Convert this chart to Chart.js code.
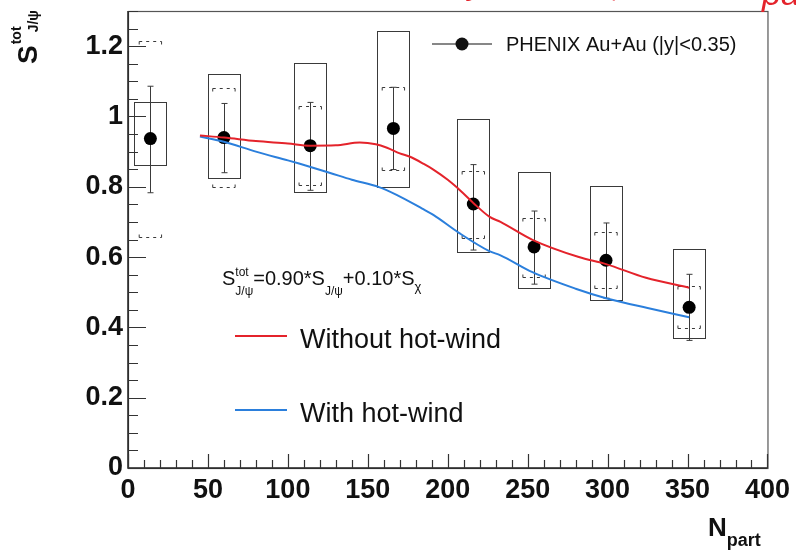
<!DOCTYPE html>
<html lang="en">
<head>
    <meta charset="UTF-8">
    <title>J/psi survival vs Npart</title>
    <style>
        body { margin: 0; background: #fff; }
    </style>
</head>
<body>
<div>
    <canvas id="myChart" width="796" height="551"></canvas>
</div>

<script src="https://cdn.jsdelivr.net/npm/chart.js"></script>

<script>
    // PHENIX Au+Au data points
    const npart  = [14, 60, 114, 166, 216, 254, 299, 351];
    const sTot   = [0.937, 0.940, 0.917, 0.966, 0.751, 0.629, 0.591, 0.457];
    const statHi = [1.086, 1.037, 1.040, 1.083, 0.863, 0.731, 0.697, 0.551];
    const statLo = [0.783, 0.840, 0.790, 0.849, 0.620, 0.523, 0.483, 0.363];
    const sysHi  = [1.040, 1.120, 1.151, 1.243, 0.994, 0.843, 0.803, 0.623];
    const sysLo  = [0.860, 0.823, 0.783, 0.800, 0.617, 0.514, 0.480, 0.369];
    const globHi = [1.214, 1.080, 1.031, 1.083, 0.846, 0.711, 0.671, 0.517];
    const globLo = [0.657, 0.800, 0.806, 0.849, 0.654, 0.543, 0.511, 0.397];

    // model curves
    const redX  = [45, 60, 80, 100, 114, 130, 145, 155, 162, 170, 176, 185, 191, 200, 206, 216, 226, 233, 253, 282, 299, 324, 351];
    const redY  = [0.946, 0.940, 0.930, 0.923, 0.917, 0.918, 0.926, 0.921, 0.911, 0.895, 0.886, 0.865, 0.849, 0.820, 0.797, 0.754, 0.715, 0.700, 0.649, 0.600, 0.580, 0.541, 0.513];
    const blueX = [45, 60, 80, 100, 107, 126, 140, 157, 168, 184, 191, 207, 226, 233, 253, 280, 299, 325, 351];
    const blueY = [0.943, 0.928, 0.900, 0.875, 0.866, 0.840, 0.820, 0.799, 0.777, 0.738, 0.720, 0.669, 0.617, 0.605, 0.557, 0.510, 0.483, 0.455, 0.429];

    const xTicks = [0, 50, 100, 150, 200, 250, 300, 350, 400];
    const yTicks = [0, 0.2, 0.4, 0.6, 0.8, 1, 1.2];

    const RED = '#e4232b';
    const BLUE = '#2b7fdc';
    const FONT = "'Liberation Sans', Arial, sans-serif";

    function toXY(xs, ys) {
        return xs.map((v, i) => ({x: v, y: ys[i]}));
    }

    // parts: [text, size, dy, bold, dx] ; an array of parts is drawn stacked
    function richText(ctx, x, y, parts) {
        let cx = x;
        for (const p of parts) {
            const group = Array.isArray(p[0]) ? p : [p];
            let w = 0;
            for (const q of group) {
                ctx.font = (q[3] ? 'bold ' : '') + q[1] + 'px ' + FONT;
                const dx = q[4] || 0;
                ctx.fillText(q[0], cx + dx, y + q[2]);
                w = Math.max(w, dx + ctx.measureText(q[0]).width);
            }
            cx += w;
        }
    }

    const errorBars = {
        id: 'errorBars',
        beforeDatasetsDraw(chart) {
            const {ctx, scales: {x, y}} = chart;
            ctx.save();
            ctx.strokeStyle = '#3a3a3a';
            ctx.lineWidth = 1;
            for (let i = 0; i < npart.length; i++) {
                const px = Math.round(x.getPixelForValue(npart[i])) + 0.5;
                // systematic box
                const bl = x.getPixelForValue(npart[i] - 10);
                const br = x.getPixelForValue(npart[i] + 10);
                const bt = y.getPixelForValue(sysHi[i]);
                const bb = y.getPixelForValue(sysLo[i]);
                ctx.setLineDash([]);
                ctx.strokeRect(Math.round(bl) + 0.5, Math.round(bt) + 0.5, Math.round(br - bl), Math.round(bb - bt));
                // statistical bar
                const st = y.getPixelForValue(statHi[i]);
                const sb = y.getPixelForValue(statLo[i]);
                ctx.beginPath();
                ctx.moveTo(px, st); ctx.lineTo(px, sb);
                ctx.moveTo(px - 3, st); ctx.lineTo(px + 3, st);
                ctx.moveTo(px - 3, sb); ctx.lineTo(px + 3, sb);
                ctx.stroke();
                // global uncertainty (dashed caps)
                const gl = x.getPixelForValue(npart[i] - 7);
                const gr = x.getPixelForValue(npart[i] + 7);
                const gt = Math.round(y.getPixelForValue(globHi[i])) + 0.5;
                const gb = Math.round(y.getPixelForValue(globLo[i])) + 0.5;
                ctx.setLineDash([3, 4]);
                ctx.beginPath();
                ctx.moveTo(gl, gt); ctx.lineTo(gr, gt);
                ctx.moveTo(gl, gb); ctx.lineTo(gr, gb);
                ctx.stroke();
                ctx.setLineDash([]);
                ctx.beginPath();
                ctx.moveTo(gl, gt); ctx.lineTo(gl, gt + 3);
                ctx.moveTo(gr, gt); ctx.lineTo(gr, gt + 3);
                ctx.moveTo(gl, gb); ctx.lineTo(gl, gb - 3);
                ctx.moveTo(gr, gb); ctx.lineTo(gr, gb - 3);
                ctx.stroke();
            }
            ctx.restore();
        }
    };

    const frameAndText = {
        id: 'frameAndText',
        afterDraw(chart) {
            const {ctx, chartArea: a, scales: {x, y}} = chart;
            ctx.save();
            // frame
            ctx.strokeStyle = '#555';
            ctx.lineWidth = 1.2;
            ctx.strokeRect(a.left + 0.5, a.top + 0.5, a.right - a.left, a.bottom - a.top);
            ctx.strokeStyle = '#222';
            ctx.lineWidth = 1.5;
            ctx.beginPath();
            ctx.moveTo(a.left, a.top); ctx.lineTo(a.left, a.bottom); ctx.lineTo(a.right, a.bottom);
            ctx.stroke();
            // inward ticks
            ctx.lineWidth = 1.2;
            ctx.strokeStyle = '#333';
            ctx.beginPath();
            for (let k = 0; k <= 26; k++) {
                const py = Math.round(y.getPixelForValue(k * 0.05)) + 0.5;
                const len = (k % 4 === 0) ? 18 : 10;
                ctx.moveTo(a.left, py); ctx.lineTo(a.left + len, py);
            }
            for (let k = 0; k <= 40; k++) {
                const px = Math.round(x.getPixelForValue(k * 10)) + 0.5;
                const len = (k % 5 === 0) ? 14 : 8;
                ctx.moveTo(px, a.bottom); ctx.lineTo(px, a.bottom - len);
            }
            ctx.stroke();

            ctx.fillStyle = '#111';
            ctx.textBaseline = 'alphabetic';
            // PHENIX legend
            ctx.strokeStyle = '#111';
            ctx.lineWidth = 1.2;
            ctx.beginPath();
            ctx.moveTo(432, 44); ctx.lineTo(492, 44);
            ctx.stroke();
            ctx.beginPath();
            ctx.arc(462, 44, 6.5, 0, Math.PI * 2);
            ctx.fill();
            ctx.font = '20px ' + FONT;
            ctx.fillText('PHENIX Au+Au (|y|<0.35)', 506, 51);

            // model legend
            ctx.lineWidth = 2;
            ctx.strokeStyle = RED;
            ctx.beginPath(); ctx.moveTo(235, 336); ctx.lineTo(287, 336); ctx.stroke();
            ctx.strokeStyle = BLUE;
            ctx.beginPath(); ctx.moveTo(235, 410); ctx.lineTo(287, 410); ctx.stroke();
            ctx.font = '27px ' + FONT;
            ctx.fillText('Without hot-wind', 300, 348);
            ctx.fillText('With hot-wind', 300, 422);

            // formula
            richText(ctx, 222, 285, [
                ['S', 20, 0],
                [['tot', 12, -9], ['J/\u03c8', 12, 10]],
                ['=0.90*S', 20, 0],
                ['J/\u03c8', 12, 10],
                ['+0.10*S', 20, 0],
                ['\u03c7', 13, 6]
            ]);

            // axis titles
            richText(ctx, 708, 536, [['N', 26, 0, true], ['part', 18, 10, true]]);
            ctx.save();
            ctx.translate(37, 64);
            ctx.rotate(-Math.PI / 2);
            richText(ctx, 0, 0, [
                ['S', 28, 0, true],
                [['tot', 14, -16, true, 1], ['J/\u03c8', 14, 1, true, 13]]
            ]);
            ctx.restore();

            // cut-off slide title fragments
            ctx.fillStyle = RED;
            ctx.font = 'italic 34px ' + FONT;
            ctx.fillText('pa', 762, 5);
            ctx.fillText('y', 468, -6);
            ctx.fillText(',', 612, -4);
            ctx.restore();
        }
    };

    const ctx = document.getElementById('myChart');

    new Chart(ctx, {
        type: 'scatter',
        data: {
            datasets: [
                {
                    label: 'Without hot-wind',
                    data: toXY(redX, redY),
                    showLine: true,
                    borderColor: RED,
                    borderWidth: 2,
                    pointRadius: 0,
                    cubicInterpolationMode: 'monotone'
                },
                {
                    label: 'With hot-wind',
                    data: toXY(blueX, blueY),
                    showLine: true,
                    borderColor: BLUE,
                    borderWidth: 2,
                    pointRadius: 0,
                    cubicInterpolationMode: 'monotone'
                },
                {
                    label: 'PHENIX Au+Au (|y|<0.35)',
                    data: toXY(npart, sTot),
                    showLine: false,
                    pointRadius: 6.5,
                    pointBackgroundColor: '#000',
                    pointBorderColor: '#000',
                    pointBorderWidth: 0
                }
            ]
        },
        options: {
            responsive: false,
            animation: false,
            layout: {padding: {top: 11, right: 28, left: 0, bottom: 0}},
            plugins: {
                legend: {display: false},
                tooltip: {enabled: false}
            },
            scales: {
                x: {
                    type: 'linear',
                    min: 0,
                    max: 400,
                    afterFit(scale) { scale.height = 83; },
                    afterBuildTicks(scale) { scale.ticks = xTicks.map(v => ({value: v})); },
                    grid: {display: false, drawTicks: false},
                    border: {display: false},
                    ticks: {
                        color: '#111',
                        padding: 6,
                        maxRotation: 0,
                        autoSkip: false,
                        font: {family: FONT, size: 27, weight: 'bold'}
                    }
                },
                y: {
                    type: 'linear',
                    min: 0,
                    max: 1.3,
                    afterFit(scale) {
                        scale.width = 128;
                        scale.paddingTop = 0;
                        scale.paddingBottom = 0;
                    },
                    afterBuildTicks(scale) { scale.ticks = yTicks.map(v => ({value: v})); },
                    grid: {display: false, drawTicks: false},
                    border: {display: false},
                    ticks: {
                        color: '#111',
                        padding: 5,
                        autoSkip: false,
                        callback: v => String(v),
                        font: {family: FONT, size: 27, weight: 'bold'}
                    }
                }
            }
        },
        plugins: [errorBars, frameAndText]
    });
</script>

</body>
</html>
